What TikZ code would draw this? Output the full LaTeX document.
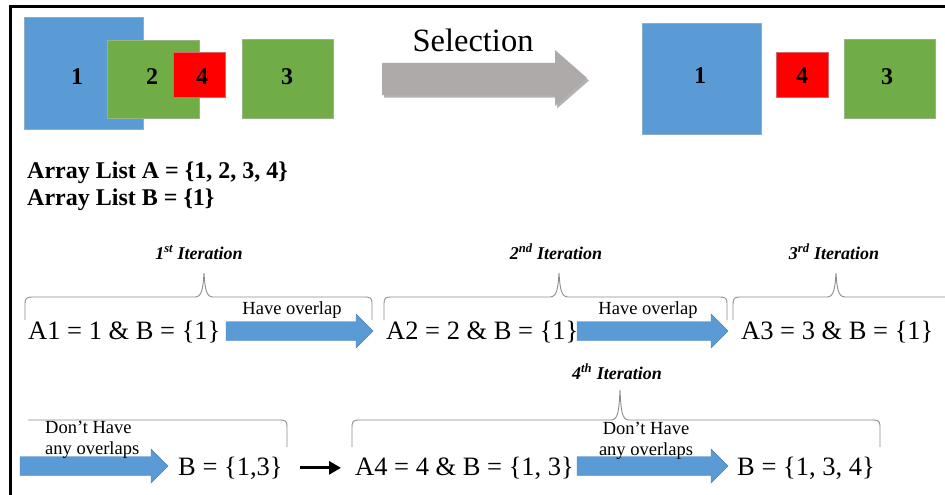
\documentclass[tikz,border=0pt]{standalone}
\usepackage{fontspec}
\setmainfont{Liberation Serif}
\usetikzlibrary{shadows,arrows.meta,calc}

\definecolor{boxblue}{HTML}{5B9BD5}
\definecolor{boxgreen}{HTML}{70AD47}
\definecolor{boxred}{HTML}{FF0000}
\definecolor{selgray}{HTML}{AEAAAA}
\definecolor{bracegray}{HTML}{8C8C8C}

% block arrow from coordinate #1 to tip coordinate #2 (same height)
\newcommand\blockarrow[2]{%
  \path let \p1=(#1), \p2=(#2) in
    [fill=boxblue, draw=boxblue!85!black, line width=.4pt]
    (\x1,\y1+9.5pt) -- (\x2-17pt,\y1+9.5pt) -- (\x2-17pt,\y1+17pt) -- (\x2,\y1)
    -- (\x2-17pt,\y1-17pt) -- (\x2-17pt,\y1-9.5pt) -- (\x1,\y1-9.5pt) -- cycle;}

% curly brace: #1 left x, #2 right x, #3 tip x, #4 line y, #5 end y, #6 tip y
\newcommand\iterbrace[6]{%
  \draw[bracegray, line width=.9pt]
    (#1,#5) -- (#1,#4+8) .. controls (#1,#4+1) and (#1+1,#4) .. (#1+8,#4)
    -- (#3-9,#4) .. controls (#3-2,#4) and (#3-1,#4-9) .. (#3,#6)
    .. controls (#3+1,#4-9) and (#3+2,#4) .. (#3+9,#4)
    -- (#2-8,#4) .. controls (#2-1,#4) and (#2,#4+1) .. (#2,#4+8) -- (#2,#5);}

\begin{document}
\begin{tikzpicture}[x=1pt, y=-1pt,
  sq/.style={draw=#1!75!black!60!white, line width=.6pt, fill=#1, inner sep=0pt},
  num/.style={font=\bfseries\fontsize{24}{28}\selectfont, inner sep=0pt},
  expr/.style={font=\fontsize{26.5}{31}\selectfont, inner sep=0pt, anchor=base west},
  small/.style={font=\fontsize{18.5}{22}\selectfont, inner sep=0pt, anchor=base},
  iter/.style={font=\bfseries\itshape\fontsize{18}{21}\selectfont, inner sep=0pt, anchor=base},
  listtxt/.style={font=\bfseries\fontsize{24}{28}\selectfont, inner sep=0pt, anchor=base west},
  blk/.style={line width=3pt, -{Triangle[length=12pt,width=13pt]}}]

\useasboundingbox (0,0) rectangle (945,495);
\fill[white] (0,0) rectangle (945,495);

% frame
\draw[line width=3pt] (10,495) -- (10,7) -- (945,7);

% squares before selection
\node[sq=boxblue, minimum width=119pt, minimum height=112pt] (s1) at (83.5,73) {};
\node[sq=boxgreen, minimum width=92pt, minimum height=78pt] (s2) at (153,79) {};
\node[sq=boxred, minimum width=52pt, minimum height=45pt] (s4) at (199.5,75) {};
\node[sq=boxgreen, minimum width=91pt, minimum height=79pt] (s3) at (287.5,78.5) {};
\node[num] (n1) at (77,77) {1};
\node[num] (n2) at (152,77) {2};
\node[num] (n4) at (202,77) {4};
\node[num] (n3) at (287,77) {3};

% selection arrow
\fill[selgray, drop shadow={shadow xshift=2pt, shadow yshift=-2.5pt, opacity=.3, fill=black}]
  (382,63) -- (555,63) -- (555,50) -- (587,78) -- (555,106) -- (555,95) -- (382,95) -- cycle;
\node[font=\fontsize{32.5}{38}\selectfont, inner sep=0pt, anchor=base] (sel) at (473,52) {Selection};

% squares after selection
\node[sq=boxblue, minimum width=119pt, minimum height=111pt] (t1) at (701.5,78.5) {};
\node[sq=boxred, minimum width=52pt, minimum height=45pt] (t4) at (802,74.5) {};
\node[sq=boxgreen, minimum width=91pt, minimum height=79pt] (t3) at (889.5,78.5) {};
\node[num] (m1) at (700,76) {1};
\node[num] (m4) at (802,76) {4};
\node[num] (m3) at (887,77) {3};

% array lists
\node[listtxt] (la) at (27,178) {Array List A = \{1, 2, 3, 4\}};
\node[listtxt] (lb) at (27,205) {Array List B = \{1\}};

% iteration braces and labels
\iterbrace{25}{372}{204}{297}{320}{273}
\iterbrace{384}{727}{559}{297}{320}{273}
\iterbrace{733}{985}{836}{297}{320}{273}
\draw[bracegray, line width=.9pt] (28,420) -- (279,420) .. controls (286,420) and (287,421) .. (287,428) -- (287,447);
\iterbrace{352}{880}{620}{420}{447}{390}

\node[iter] (i1) at (199,259) {1\textsuperscript{st} Iteration};
\node[iter] (i2) at (556,259) {2\textsuperscript{nd} Iteration};
\node[iter] (i3) at (834,259) {3\textsuperscript{rd} Iteration};
\node[iter] (i4) at (617,379) {4\textsuperscript{th} Iteration};

% first row
\node[expr] (a1) at (28,339) {A1 = 1 \& B = \{1\}};
\node[expr] (a2) at (386,339) {A2 = 2 \& B = \{1\}};
\node[expr] (a3) at (741,339) {A3 = 3 \& B = \{1\}};

\coordinate (p1s) at (226,331);
\coordinate (p1e) at (373,331);
\coordinate (p2s) at (577,331);
\coordinate (p2e) at (728,331);
\blockarrow{p1s}{p1e}
\blockarrow{p2s}{p2e}
\node[small] (h1) at (292,314) {Have overlap};
\node[small] (h2) at (648,314) {Have overlap};

% second row
\node[expr] (b13) at (178,475) {B = \{1,3\}};
\node[expr] (a4) at (355,475) {A4 = 4 \& B = \{1, 3\}};
\node[expr] (b134) at (737,475) {B = \{1, 3, 4\}};

\coordinate (q1s) at (20,466);
\coordinate (q1e) at (168,466);
\coordinate (q2s) at (577,466);
\coordinate (q2e) at (728,466);
\blockarrow{q1s}{q1e}
\blockarrow{q2s}{q2e}
\node[small, anchor=base west] (d1) at (45,433) {Don’t Have};
\node[small, anchor=base west] (d2) at (45,454) {any overlaps};
\node[small] (d3) at (646,434) {Don’t Have};
\node[small] (d4) at (646,455) {any overlaps};

\draw[blk] ([xshift=17pt]b13.east) -- ([xshift=-14pt]a4.west);

\end{tikzpicture}
\end{document}
